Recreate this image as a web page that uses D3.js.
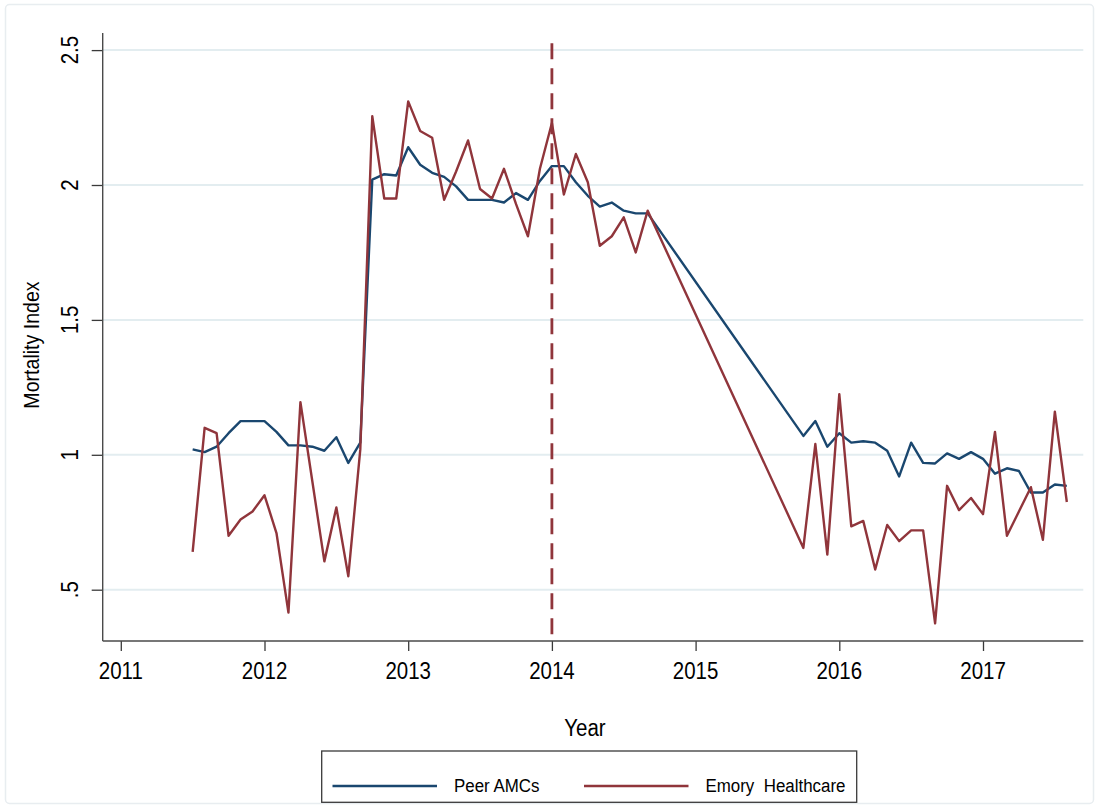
<!DOCTYPE html>
<html>
<head>
<meta charset="utf-8">
<script src="https://cdn.jsdelivr.net/npm/d3@7"></script>
<style>
  html, body { margin: 0; padding: 0; background: #ffffff; }
  svg { display: block; }
  text { font-family: "Liberation Sans", Arial, sans-serif; fill: #000; }
</style>
</head>
<body>
<svg id="chart" width="1099" height="807"></svg>
<script>
// Monthly observation dates (year m month)
const months = [
  "2011m7","2011m8","2011m9","2011m10","2011m11","2011m12",
  "2012m1","2012m2","2012m3","2012m4","2012m5","2012m6","2012m7","2012m8","2012m9","2012m10","2012m11","2012m12",
  "2013m1","2013m2","2013m3","2013m4","2013m5","2013m6","2013m7","2013m8","2013m9","2013m10","2013m11","2013m12",
  "2014m1","2014m2","2014m3","2014m4","2014m5","2014m6","2014m7","2014m8","2014m9",
  "2015m10","2015m11","2015m12",
  "2016m1","2016m2","2016m3","2016m4","2016m5","2016m6","2016m7","2016m8","2016m9","2016m10","2016m11","2016m12",
  "2017m1","2017m2","2017m3","2017m4","2017m5","2017m6","2017m7","2017m8"
];

// Mortality index, peer academic medical centers
const peerAMCs = [
  1.02, 1.01, 1.03, 1.08, 1.125, 1.125,
  1.125, 1.085, 1.035, 1.035, 1.03, 1.015, 1.065, 0.97, 1.045, 2.02, 2.04, 2.035,
  2.14, 2.075, 2.045, 2.03, 1.995, 1.945, 1.945, 1.945, 1.935, 1.97, 1.945, 2.015,
  2.07, 2.07, 2.01, 1.96, 1.92, 1.935, 1.905, 1.895, 1.895,
  1.07, 1.125, 1.03,
  1.08, 1.045, 1.05, 1.045, 1.015, 0.92, 1.045, 0.97, 0.968, 1.005, 0.985, 1.01,
  0.985, 0.93, 0.95, 0.94, 0.86, 0.86, 0.89, 0.885
];

// Mortality index, Emory Healthcare
const emory = [
  0.64, 1.10, 1.08, 0.70, 0.76, 0.79,
  0.85, 0.71, 0.415, 1.195, 0.90, 0.605, 0.805, 0.55, 1.02, 2.255, 1.95, 1.95,
  2.31, 2.20, 2.175, 1.945, 2.05, 2.165, 1.985, 1.95, 2.06, 1.93, 1.81, 2.06,
  2.23, 1.965, 2.115, 2.01, 1.775, 1.81, 1.88, 1.75, 1.905,
  0.655, 1.04, 0.63,
  1.225, 0.735, 0.755, 0.575, 0.74, 0.68, 0.72, 0.72, 0.375, 0.885, 0.795, 0.84,
  0.78, 1.085, 0.70, 0.79, 0.88, 0.685, 1.16, 0.825
];

const yearTicks = [2011, 2012, 2013, 2014, 2015, 2016, 2017];
const indexTicks = [0.5, 1, 1.5, 2, 2.5];
const indexTickLabels = [".5", "1", "1.5", "2", "2.5"];
const interventionYear = 2014;

const seriesNames = ["Peer AMCs", "Emory  Healthcare"];
const seriesColors = ["#1a476f", "#90353b"];

// Convert "YYYYmM" to a decimal year
const toYear = s => {
  const [y, m] = s.split("m").map(Number);
  return y + (m - 1) / 12;
};
const t = months.map(toYear);

const svg = d3.select("#chart");

// Plot region
const plot = { left: 102.7, right: 1083.3, top: 33, bottom: 641 };

const x = d3.scaleLinear().domain([2011, 2017]).range([120.8, 983.0]);
const y = d3.scaleLinear().domain([0.5, 2.5]).range([589.7, 50.1]);

// Horizontally condensed text, like the Stata default font
const SQUEEZE = 0.89;
function label(g, px, py, str, size, anchor, rotate) {
  return g.append("text")
    .attr("transform", `translate(${px},${py}) rotate(${rotate || 0}) scale(${SQUEEZE},1)`)
    .attr("text-anchor", anchor || "middle")
    .style("font-size", size + "px")
    .style("white-space", "pre")
    .text(str);
}

// Faint outer frame
svg.append("rect")
  .attr("x", 5.5).attr("y", 4.5).attr("width", 1088).attr("height", 799)
  .attr("rx", 4)
  .attr("fill", "none").attr("stroke", "#e8edf0").attr("stroke-width", 1.5);

// Gridlines
svg.append("g").selectAll("line").data(indexTicks).join("line")
  .attr("x1", plot.left).attr("x2", plot.right)
  .attr("y1", d => y(d)).attr("y2", d => y(d))
  .attr("stroke", "#e3edf0").attr("stroke-width", 2);

// Y axis
const yAxis = d3.axisLeft(y).tickValues(indexTicks).tickSize(11).tickFormat("");
const gy = svg.append("g").attr("transform", `translate(${plot.left},0)`).call(yAxis);
gy.select(".domain").remove();
gy.selectAll(".tick line").attr("stroke", "#3a3a3a").attr("stroke-width", 1.3);
svg.append("line")
  .attr("x1", plot.left).attr("x2", plot.left)
  .attr("y1", plot.top).attr("y2", plot.bottom)
  .attr("stroke", "#4a4a4a").attr("stroke-width", 1.4);
indexTicks.forEach((v, i) => label(svg, 77.5, y(v), indexTickLabels[i], 23, "middle", -90));

// X axis
const xAxis = d3.axisBottom(x).tickValues(yearTicks).tickSize(10).tickFormat("");
const gx = svg.append("g").attr("transform", `translate(0,${plot.bottom})`).call(xAxis);
gx.select(".domain").remove();
gx.selectAll(".tick line").attr("stroke", "#3a3a3a").attr("stroke-width", 1.3);
svg.append("line")
  .attr("x1", plot.left).attr("x2", plot.right)
  .attr("y1", plot.bottom).attr("y2", plot.bottom)
  .attr("stroke", "#4a4a4a").attr("stroke-width", 1.4);
yearTicks.forEach(v => label(svg, x(v), 678.5, String(v), 23, "middle"));

// Axis titles
label(svg, 39, 345, "Mortality Index", 22, "middle", -90);
label(svg, 585, 735.5, "Year", 23, "middle");

// Series lines; the Oct 2014 – Sep 2015 gap is bridged by a straight segment
const line = d3.line().x((d, i) => x(t[i])).y(d => y(d));
[peerAMCs, emory].forEach((vals, k) => {
  svg.append("path")
    .datum(vals)
    .attr("d", line)
    .attr("fill", "none")
    .attr("stroke", seriesColors[k])
    .attr("stroke-width", 2.4)
    .attr("stroke-linejoin", "round");
});

// Intervention reference line
svg.append("line")
  .attr("x1", x(interventionYear)).attr("x2", x(interventionYear))
  .attr("y1", 43.3).attr("y2", plot.bottom)
  .attr("stroke", "#90353b").attr("stroke-width", 2.8)
  .attr("stroke-dasharray", "16,9");

// Legend
const legend = svg.append("g");
legend.append("rect")
  .attr("x", 321.7).attr("y", 751).attr("width", 535).attr("height", 51.3)
  .attr("fill", "#fff").attr("stroke", "#3a3a3a").attr("stroke-width", 1.3);
const legendX = [332.5, 584];
seriesNames.forEach((name, k) => {
  legend.append("line")
    .attr("x1", legendX[k]).attr("x2", legendX[k] + 104.5)
    .attr("y1", 786).attr("y2", 786)
    .attr("stroke", seriesColors[k]).attr("stroke-width", 2.6);
  label(legend, legendX[k] + 121.5, 792, name, 19, "start");
});
</script>
</body>
</html>
